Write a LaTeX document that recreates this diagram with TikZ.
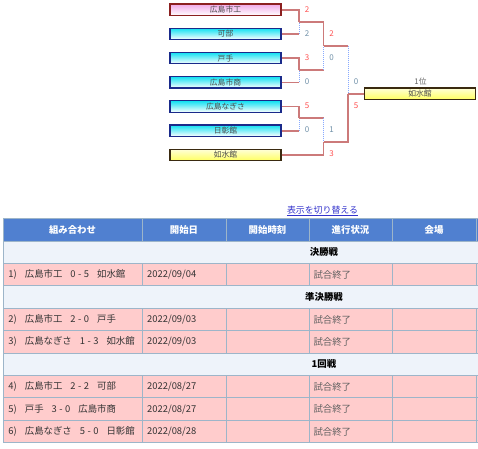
\documentclass[tikz,border=0pt]{standalone}
\usepackage{fontspec}
\setmainfont{Noto Sans CJK JP}
\usetikzlibrary{positioning,calc}

\definecolor{winline}{HTML}{CC7A7A}
\definecolor{loseline}{HTML}{88AAFF}
\definecolor{winscore}{HTML}{FF5050}
\definecolor{losescore}{HTML}{7090A8}
\definecolor{navyedge}{HTML}{1A2A8A}
\definecolor{rededge}{HTML}{8B2020}
\definecolor{brownedge}{HTML}{3A2A10}
\definecolor{cyantop}{HTML}{10E0F2}
\definecolor{pinktop}{HTML}{F0A8E8}
\definecolor{yellowbot}{HTML}{FFFF60}
\definecolor{headblue}{HTML}{5080D0}
\definecolor{gridline}{HTML}{9DB5C9}
\definecolor{secbg}{HTML}{EEF3FA}
\definecolor{rowbg}{HTML}{FFCCCC}
\definecolor{linkblue}{HTML}{3333CC}

\begin{document}
\begin{tikzpicture}[x=1pt, y=-1pt, node distance=11.5pt,
  team/.style={rectangle, draw=navyedge, line width=1.2pt, top color=cyantop, bottom color=white,
    minimum width=111pt, minimum height=11.5pt, inner sep=0pt, text=black!70,
    font=\fontsize{7.8}{8}\selectfont},
  hometeam/.style={team, draw=rededge, top color=pinktop, bottom color=white},
  winteam/.style={team, draw=brownedge, top color=yellow!15, bottom color=yellowbot},
  win/.style={draw=winline, line width=1.6pt},
  lose/.style={draw=loseline, line width=1pt, dash pattern=on 1pt off 1pt},
  wscore/.style={text=winscore, font=\fontsize{8}{9}\selectfont, inner sep=0pt},
  lscore/.style={text=losescore, font=\fontsize{8}{9}\selectfont, inner sep=0pt},
  head/.style={text=white, font=\fontsize{9.4}{11}\selectfont\bfseries, inner sep=0pt},
  section/.style={text=black, font=\fontsize{9.4}{11}\selectfont\bfseries, inner sep=0pt},
  cell/.style={anchor=west, text=black!80, font=\fontsize{9.4}{11}\selectfont, inner sep=0pt},
  grid/.style={draw=gridline, line width=1pt}]

  \useasboundingbox (0,0) rectangle (478,448);

  % bracket
  \node [hometeam] (kosho) at (225.5,9.7) {広島市工};
  \node [team, below=of kosho] (kabe) {可部};
  \node [team, below=of kabe] (tode) {戸手};
  \node [team, below=of tode] (shosho) {広島市商};
  \node [team, below=of shosho] (nagisa) {広島なぎさ};
  \node [team, below=of nagisa] (nissho) {日彰館};
  \node [winteam, below=of nissho] (josui) {如水館};
  \node [winteam] (champ) at (420,93.7) {如水館};
  \node [text=black!60, font=\fontsize{7.8}{8}\selectfont, inner sep=0pt] (rank) at (420.5,81.5) {1位};

  \coordinate (m4) at (299,21.7);
  \coordinate (m5) at (299,69.7);
  \coordinate (m6) at (299,117.7);
  \coordinate (m2) at (323.5,45.7);
  \coordinate (m3) at (323.5,141.7);
  \coordinate (m1) at (348,93.7);

  \draw [win] (kosho.east) -| (m4);
  \draw [win] (kabe.east) -- (kabe.east -| m4);
  \draw [lose] (kabe.east -| m4) -- (m4);
  \draw [win] (tode.east) -| (m5);
  \draw [win] (shosho.east) -- (shosho.east -| m5);
  \draw [lose] (shosho.east -| m5) -- (m5);
  \draw [win] (nagisa.east) -| (m6);
  \draw [win] (nissho.east) -- (nissho.east -| m6);
  \draw [lose] (nissho.east -| m6) -- (m6);

  \draw [win] (m4) -| (m2);
  \draw [win] (m5) -- (m5 -| m2);
  \draw [lose] (m5 -| m2) -- (m2);
  \draw [win] (m6) -- (m6 -| m3);
  \draw [lose] (m6 -| m3) -- (m3);
  \draw [win] (josui.east) -| (m3);

  \draw [win] (m2) -- (m2 -| m1);
  \draw [lose] (m2 -| m1) -- (m1);
  \draw [win] (m3) -| (m1);
  \draw [win] (m1) -- (champ.west);

  % scores
  \node [wscore] (s4a) at ($(m4)+(8,-12)$) {2};
  \node [lscore] (s4b) at ($(m4)+(8,12)$) {2};
  \node [wscore] (s5a) at ($(m5)+(8,-12)$) {3};
  \node [lscore] (s5b) at ($(m5)+(8,12)$) {0};
  \node [wscore] (s6a) at ($(m6)+(8,-12)$) {5};
  \node [lscore] (s6b) at ($(m6)+(8,12)$) {0};
  \node [wscore] (s2a) at ($(m2)+(8,-12)$) {2};
  \node [lscore] (s2b) at ($(m2)+(8,12)$) {0};
  \node [lscore] (s3a) at ($(m3)+(8,-12)$) {1};
  \node [wscore] (s3b) at ($(m3)+(8,12)$) {3};
  \node [lscore] (s1a) at ($(m1)+(8,-12)$) {0};
  \node [wscore] (s1b) at ($(m1)+(8,12)$) {5};

  % toggle link
  \node [text=linkblue, font=\fontsize{8.9}{10}\selectfont, inner sep=0pt] (toggle) at (322.5,210.5) {表示を切り替える};
  \draw [linkblue, line width=0.8pt] ([yshift=-1.6pt]toggle.base west) -- ([yshift=-1.6pt]toggle.base east);

  % table
  \fill [headblue] (3,218.7) rectangle (490,241.1);
  \foreach \k in {1,3,6}
    \fill [secbg] (3,{218.7+22.4*\k}) rectangle (490,{241.1+22.4*\k});
  \foreach \k in {2,4,5,7,8,9}
    \fill [rowbg] (3,{218.7+22.4*\k}) rectangle (490,{241.1+22.4*\k});
  \foreach \k in {0,...,10}
    \draw [grid] (3,{218.7+22.4*\k}) -- (490,{218.7+22.4*\k});
  \draw [grid] (3,218.7) -- (3,442.7);
  \foreach \k in {0,2,4,5,7,8,9}
    \foreach \x in {142,226,309,392,476}
      \draw [grid] (\x,{218.7+22.4*\k}) -- (\x,{241.1+22.4*\k});

  \node [head] (hcard) at (72.5,230) {組み合わせ};
  \node [head] (hdate) at (184,230) {開始日};
  \node [head] (htime) at (267.5,230) {開始時刻};
  \node [head] (hstate) at (350.5,230) {進行状況};
  \node [head] (hvenue) at (434,230) {会場};

  \node [section] (final) at (324,252.3) {決勝戦};
  \node [section] (semi) at (324,297.1) {準決勝戦};
  \node [section] (first) at (324,364.3) {1回戦};

  \foreach \k/\card/\date in {
      2/{1)\hspace{8pt}広島市工\hspace{8pt}0\hspace{2.5pt}-\hspace{2.5pt}5\hspace{8pt}如水館}/2022\slash 09\slash 04,
      4/{2)\hspace{8pt}広島市工\hspace{8pt}2\hspace{2.5pt}-\hspace{2.5pt}0\hspace{8pt}戸手}/2022\slash 09\slash 03,
      5/{3)\hspace{8pt}広島なぎさ\hspace{8pt}1\hspace{2.5pt}-\hspace{2.5pt}3\hspace{8pt}如水館}/2022\slash 09\slash 03,
      7/{4)\hspace{8pt}広島市工\hspace{8pt}2\hspace{2.5pt}-\hspace{2.5pt}2\hspace{8pt}可部}/2022\slash 08\slash 27,
      8/{5)\hspace{8pt}戸手\hspace{8pt}3\hspace{2.5pt}-\hspace{2.5pt}0\hspace{8pt}広島市商}/2022\slash 08\slash 27,
      9/{6)\hspace{8pt}広島なぎさ\hspace{8pt}5\hspace{2.5pt}-\hspace{2.5pt}0\hspace{8pt}日彰館}/2022\slash 08\slash 28} {
    \node [cell] (card\k) at (8.3,{229.9+22.4*\k}) {\card};
    \node [cell] (date\k) at (147,{229.9+22.4*\k}) {\date};
    \node [cell, text=black!62] (state\k) at (313.3,{229.9+22.4*\k}) {試合終了};
  }
\end{tikzpicture}
\end{document}
